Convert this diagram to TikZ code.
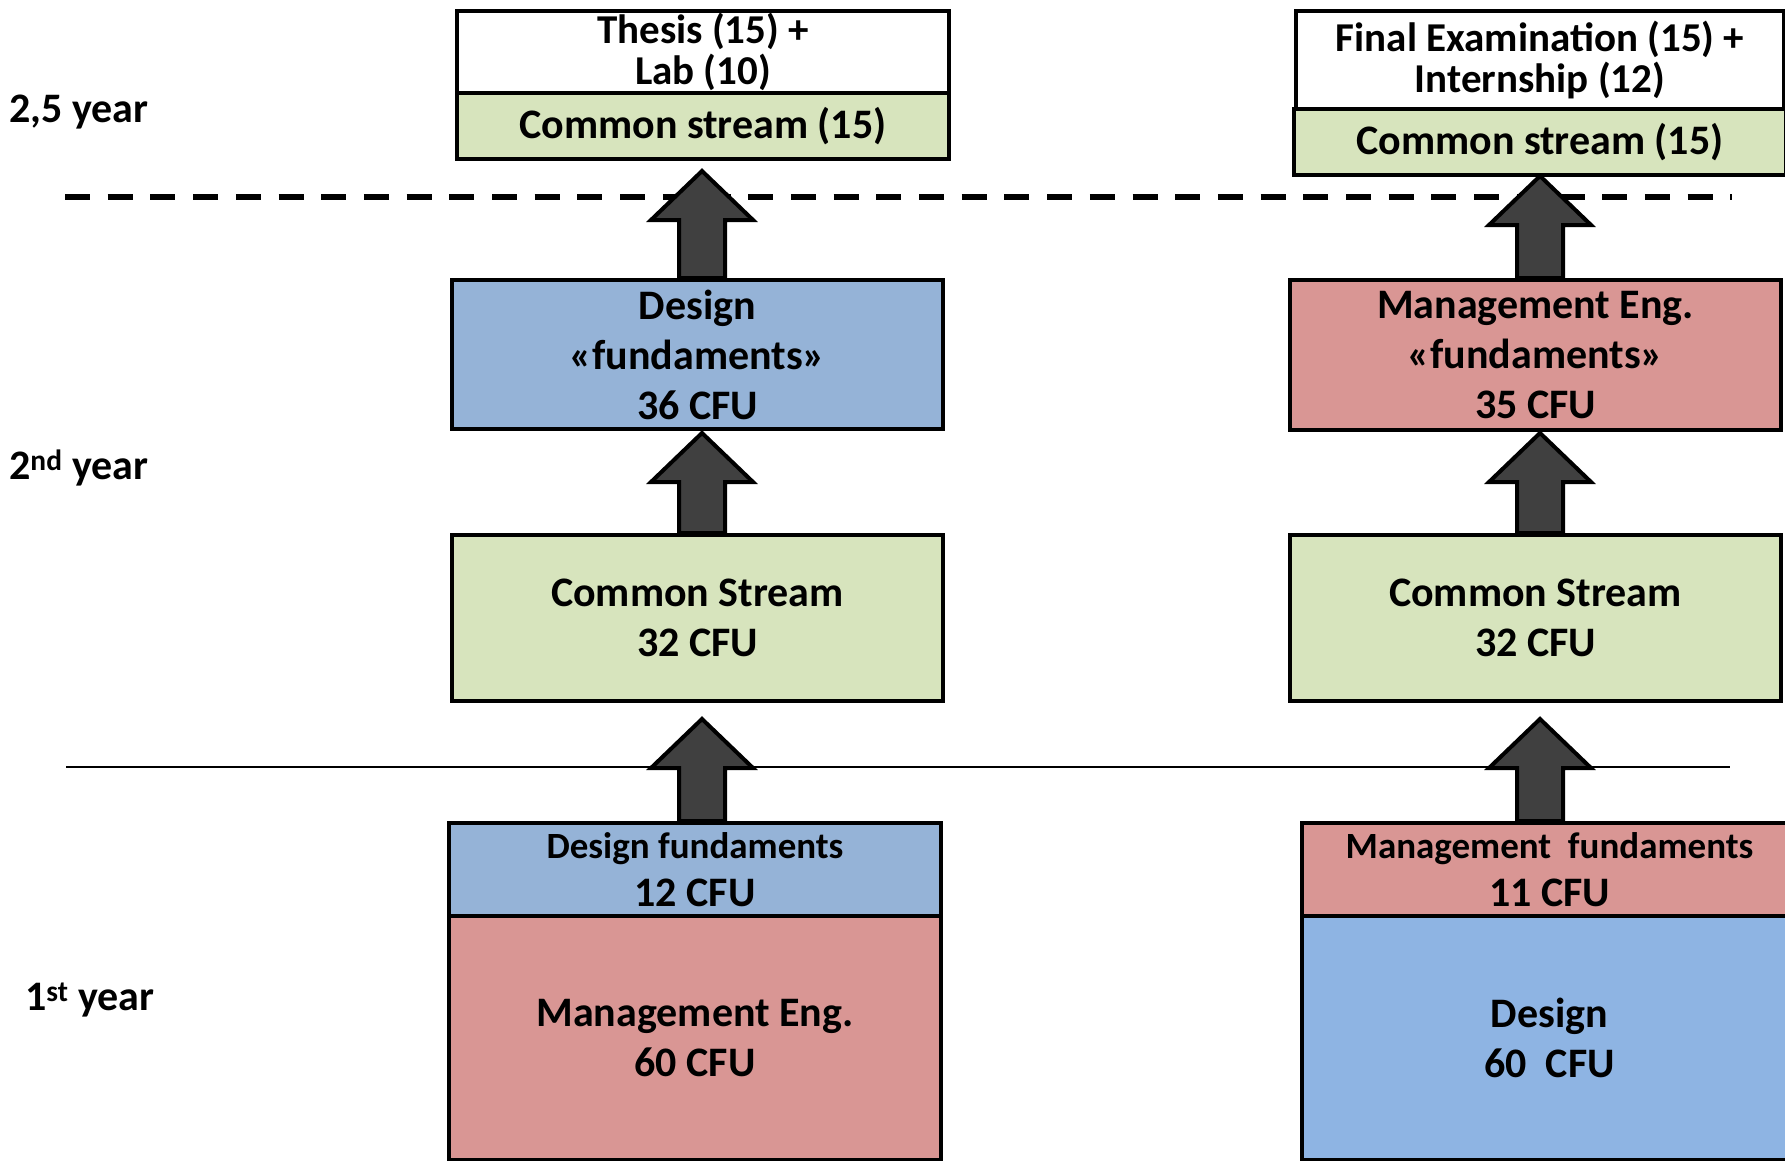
\documentclass[tikz,border=0pt]{standalone}
\usepackage{fontspec}
\setmainfont{Carlito}
\usetikzlibrary{calc}
\definecolor{cgreen}{HTML}{D7E4BD}
\definecolor{cblue}{HTML}{95B3D7}
\definecolor{cblueb}{HTML}{8EB4E3}
\definecolor{cred}{HTML}{D99694}
\definecolor{carrow}{HTML}{404040}
\newcommand{\fatarrow}[2]{%
  \draw[bigarrow] ($(#1)+(-23,0)$) -- ($(#2)+(-23,49)$) -- ($(#2)+(-51,49)$) -- (#2)
    -- ($(#2)+(51,49)$) -- ($(#2)+(23,49)$) -- ($(#1)+(23,0)$) -- cycle;}
\begin{document}
\begin{tikzpicture}[x=1pt,y=-1pt,
  box/.style={draw=black, line width=4pt, inner sep=0pt, align=center, anchor=north west,
    font=\bfseries\fontsize{42}{50}\selectfont},
  twoline/.style={font=\bfseries\fontsize{41}{41}\selectfont},
  bigarrow/.style={draw=black, line width=4pt, fill=carrow, line join=miter},
  lbl/.style={anchor=west, inner sep=0pt, font=\bfseries\fontsize{42}{50}\selectfont}]
\clip (0,0) rectangle (1785,1160);
\fill[white] (0,0) rectangle (1785,1160);
% separators
\coordinate (dl) at (65,197);
\coordinate (dr) at (1732,197);
\coordinate (sl) at (66,767);
\coordinate (sr) at (1730,767);
\draw[line width=6.5pt, dash pattern=on 25pt off 17.7pt] (dl) -- (dr);
\draw[line width=2pt] (sl) -- (sr);
% labels
\node[lbl] (y25) at (9,112) {2,5 year};
\node[lbl] (y2) at (9,468) {2\textsuperscript{nd} year};
\node[lbl] (y1) at (25,1000) {1\textsuperscript{st} year};
% left column
\node[box, twoline, fill=white, minimum width=492, minimum height=82] (thL) at (455,9) {Thesis (15) +\\Lab (10)};
\node[box, fill=cgreen, minimum width=492, minimum height=66] (csTL) at (455,91) {Common stream (15)};
\node[box, fill=cblue, minimum width=491, minimum height=149] (dfL) at (450,278) {Design\\«fundaments»\\36 CFU};
\node[box, fill=cgreen, minimum width=491, minimum height=166] (csL) at (450,533) {Common Stream\\32 CFU};
\node[box, fill=cblue, minimum width=492, minimum height=93, font=\bfseries\fontsize{42}{48}\selectfont] (d12) at (447,821) {{\fontsize{37}{40}\selectfont Design fundaments}\\12 CFU};
\node[box, fill=cred, minimum width=492, minimum height=244] (me60) at (447,914) {Management Eng.\\60 CFU};
% right column
\node[box, twoline, fill=white, minimum width=488, minimum height=98] (feR) at (1294,9) {Final Examination (15) +\\Internship (12)};
\node[box, fill=cgreen, minimum width=492, minimum height=66] (csTR) at (1292,107) {Common stream (15)};
\node[box, fill=cred, minimum width=491, minimum height=150] (mfR) at (1288,278) {Management Eng.\\«fundaments»\\35 CFU};
\node[box, fill=cgreen, minimum width=491, minimum height=166] (csR) at (1288,533) {Common Stream\\32 CFU};
\node[box, fill=cred, minimum width=495, minimum height=93, font=\bfseries\fontsize{42}{48}\selectfont] (m11) at (1300,821) {{\fontsize{37}{40}\selectfont Management\ \ fundaments}\\11 CFU};
\node[box, fill=cblueb, minimum width=495, minimum height=244] (d60) at (1300,914) {Design\\60\ \ CFU};
% arrows (left)
\coordinate (tA1) at (702,171);
\coordinate (tA2) at (702,433);
\coordinate (tA3) at (702,719);
\coordinate (bA1) at (dfL.north -| tA1);
\coordinate (bA2) at (csL.north -| tA2);
\coordinate (bA3) at (d12.north -| tA3);
\fatarrow{bA1}{tA1}
\fatarrow{bA2}{tA2}
\fatarrow{bA3}{tA3}
% arrows (right)
\coordinate (tB1) at (1540,176);
\coordinate (tB2) at (1540,433);
\coordinate (tB3) at (1540,719);
\coordinate (bB1) at (mfR.north -| tB1);
\coordinate (bB2) at (csR.north -| tB2);
\coordinate (bB3) at (m11.north -| tB3);
\fatarrow{bB1}{tB1}
\fatarrow{bB2}{tB2}
\fatarrow{bB3}{tB3}
\end{tikzpicture}
\end{document}
